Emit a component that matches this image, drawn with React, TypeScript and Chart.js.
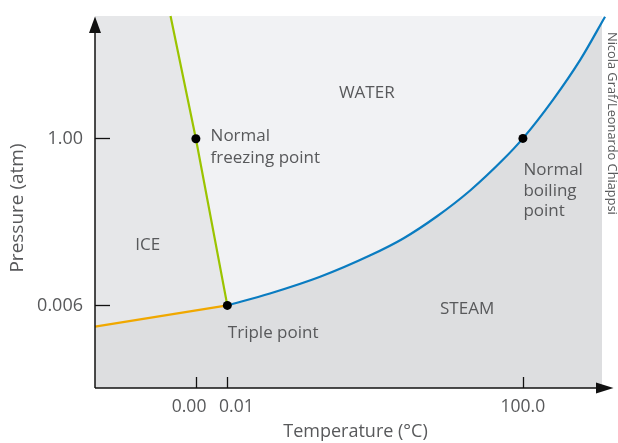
import React, { useEffect, useRef } from 'react';
import { Chart, registerables } from 'chart.js';

Chart.register(...registerables);

// Schematic axis units (the diagram is not to scale)
const X_MIN = 0;
const X_MAX = 100;
const Y_MIN = 0;
const Y_MAX = 100;

// Tick positions (schematic units) and their labels
const xTickPos = [19.9, 26.1, 84.4];
const xTickLabels = ['0.00   ', '    0.01', '100.0'];
const yTickPos = [22.2, 67.1];
const yTickLabels = ['0.006', '1.00'];

// Melting curve (ice / water) – green
const meltX = [14.9, 19.9, 26.1];
const meltY = [100, 67.0, 22.2];

// Sublimation curve (ice / steam) – orange
const sublX = [0, 26.1];
const sublY = [16.5, 22.2];

// Vaporisation curve (water / steam) – blue
const vapX = [26.1, 34.5, 44.4, 54.2, 60.8, 67.4, 74.0, 80.5, 84.4, 90.4, 95.7, 100.6];
const vapY = [22.2, 25.4, 29.9, 35.6, 40.2, 46.1, 53.1, 61.4, 67.1, 77.6, 88.2, 99.8];

// Marked points: normal freezing, triple, normal boiling
const markX = [19.9, 26.1, 84.4];
const markY = [67.0, 22.2, 67.1];

const FONT = "'Open Sans', 'Noto Sans', sans-serif";
const TEXT = '#58595b';
const ICE_BG = '#e6e7e9';
const WATER_BG = '#f1f2f4';
const STEAM_BG = '#dddee0';
const GREEN = '#9bc400';
const ORANGE = '#f0a800';
const BLUE = '#0a7cc1';

const pts = (xs: number[], ys: number[]) => xs.map((x, i) => ({ x, y: ys[i] }));

const regionLabels = [
  { lines: ['WATER'], x: 53.6, y: 79.2, align: 'center', lh: 21 },
  { lines: ['ICE'], x: 10.4, y: 38.4, align: 'center', lh: 21 },
  { lines: ['STEAM'], x: 73.4, y: 21.2, align: 'center', lh: 21 },
  { lines: ['Triple point'], x: 26.2, y: 14.7, align: 'left', lh: 21 },
  { lines: ['Normal', 'freezing point'], x: 22.8, y: 67.7, align: 'left', lh: 22 },
  { lines: ['Normal', 'boiling', 'point'], x: 84.5, y: 58.6, align: 'left', lh: 20.8 },
];

const bgPlugin = {
  id: 'phaseBg',
  beforeDatasetsDraw(chart: any) {
    const { ctx, chartArea: a } = chart;
    ctx.save();
    ctx.fillStyle = WATER_BG;
    ctx.fillRect(a.left, a.top, a.right - a.left, a.bottom - a.top);
    ctx.restore();
  },
};

const axesPlugin = {
  id: 'arrowAxes',
  afterDatasetsDraw(chart: any) {
    const { ctx, chartArea: a, scales } = chart;
    const xs = scales.x;
    const ys = scales.y;
    ctx.save();
    ctx.strokeStyle = '#111';
    ctx.fillStyle = '#111';
    ctx.lineWidth = 1.5;
    // y axis
    ctx.beginPath();
    ctx.moveTo(a.left, a.bottom);
    ctx.lineTo(a.left, a.top + 16);
    ctx.stroke();
    ctx.beginPath();
    ctx.moveTo(a.left, a.top + 0.5);
    ctx.lineTo(a.left - 6, a.top + 17);
    ctx.lineTo(a.left + 6, a.top + 17);
    ctx.closePath();
    ctx.fill();
    // x axis
    ctx.beginPath();
    ctx.moveTo(a.left, a.bottom);
    ctx.lineTo(a.right - 5, a.bottom);
    ctx.stroke();
    ctx.beginPath();
    ctx.moveTo(a.right + 11.5, a.bottom);
    ctx.lineTo(a.right - 6, a.bottom - 5.5);
    ctx.lineTo(a.right - 6, a.bottom + 5.5);
    ctx.closePath();
    ctx.fill();
    // ticks (inside)
    ctx.lineWidth = 1.3;
    xTickPos.forEach((v) => {
      const px = Math.round(xs.getPixelForValue(v)) + 0.5;
      ctx.beginPath();
      ctx.moveTo(px, a.bottom);
      ctx.lineTo(px, a.bottom - 11);
      ctx.stroke();
    });
    yTickPos.forEach((v) => {
      const py = Math.round(ys.getPixelForValue(v)) + 0.5;
      ctx.beginPath();
      ctx.moveTo(a.left, py);
      ctx.lineTo(a.left + 15, py);
      ctx.stroke();
    });
    ctx.restore();
  },
};

const textPlugin = {
  id: 'phaseText',
  afterDraw(chart: any) {
    const { ctx, scales } = chart;
    const xs = scales.x;
    const ys = scales.y;
    ctx.save();
    ctx.fillStyle = TEXT;
    ctx.textBaseline = 'middle';
    ctx.font = `17px ${FONT}`;
    regionLabels.forEach((l) => {
      ctx.textAlign = l.align as CanvasTextAlign;
      const px = xs.getPixelForValue(l.x);
      const py = ys.getPixelForValue(l.y);
      l.lines.forEach((t, i) => ctx.fillText(t, px, py + i * l.lh));
    });
    // x axis title
    ctx.textAlign = 'center';
    ctx.font = `18px ${FONT}`;
    ctx.fillText('Temperature (°C)', 355.5, 431.5);
    // y axis title
    ctx.save();
    ctx.translate(18, 208);
    ctx.rotate(-Math.PI / 2);
    ctx.font = `19px ${FONT}`;
    ctx.fillText('Pressure (atm)', 0, 0);
    ctx.restore();
    // credit
    ctx.save();
    ctx.translate(612, 32);
    ctx.rotate(Math.PI / 2);
    ctx.textAlign = 'left';
    ctx.font = `12.8px ${FONT}`;
    ctx.fillText('Nicola Graf/Leonardo Chiappsi', 0, 0);
    ctx.restore();
    ctx.restore();
  },
};

export default function App() {
  const ref = useRef<HTMLCanvasElement | null>(null);

  useEffect(() => {
    if (!ref.current) return;
    const steamEdge = [...pts(sublX, sublY), ...pts(vapX, vapY).slice(1)];
    const chart = new Chart(ref.current, {
      type: 'line',
      data: {
        datasets: [
          {
            label: 'ice',
            data: [{ x: X_MIN, y: Y_MAX }, ...pts(meltX, meltY)],
            fill: 'origin',
            backgroundColor: ICE_BG,
            borderWidth: 0,
            pointRadius: 0,
            tension: 0,
            order: 6,
          },
          {
            label: 'steam',
            data: steamEdge,
            fill: 'origin',
            backgroundColor: STEAM_BG,
            borderWidth: 0,
            pointRadius: 0,
            tension: 0,
            order: 5,
          },
          {
            label: 'melting',
            data: pts(meltX, meltY),
            fill: false,
            borderColor: GREEN,
            borderWidth: 2.2,
            pointRadius: 0,
            tension: 0,
            clip: false as any,
            order: 3,
          },
          {
            label: 'sublimation',
            data: pts(sublX, sublY),
            fill: false,
            borderColor: ORANGE,
            borderWidth: 2.2,
            pointRadius: 0,
            tension: 0,
            clip: false as any,
            order: 3,
          },
          {
            label: 'vaporisation',
            data: pts(vapX, vapY),
            fill: false,
            borderColor: BLUE,
            borderWidth: 2.2,
            pointRadius: 0,
            cubicInterpolationMode: 'monotone',
            clip: false as any,
            order: 3,
          },
          {
            label: 'marks',
            data: pts(markX, markY),
            showLine: false,
            pointRadius: 4.5,
            pointBackgroundColor: '#000',
            pointBorderWidth: 0,
            clip: false as any,
            order: 1,
          },
        ],
      },
      options: {
        responsive: false,
        animation: false,
        events: [],
        layout: { padding: { top: 16, right: 16, left: 0, bottom: 0 } },
        plugins: { legend: { display: false }, tooltip: { enabled: false } },
        scales: {
          x: {
            type: 'linear',
            min: X_MIN,
            max: X_MAX,
            grid: { display: false, drawTicks: false },
            border: { display: false },
            afterBuildTicks: (s: any) => {
              s.ticks = xTickPos.map((v) => ({ value: v }));
            },
            afterFit: (s: any) => {
              s.height = 55;
              s.paddingLeft = 0;
              s.paddingRight = 0;
            },
            ticks: {
              autoSkip: false,
              maxRotation: 0,
              padding: 9,
              color: TEXT,
              font: { family: FONT, size: 17.5 },
              callback: (_v: any, i: number) => xTickLabels[i],
            },
          },
          y: {
            type: 'linear',
            min: Y_MIN,
            max: Y_MAX,
            grid: { display: false, drawTicks: false },
            border: { display: false },
            afterBuildTicks: (s: any) => {
              s.ticks = yTickPos.map((v) => ({ value: v }));
            },
            afterFit: (s: any) => {
              s.width = 95;
              s.paddingTop = 0;
              s.paddingBottom = 0;
            },
            ticks: {
              autoSkip: false,
              padding: 12,
              color: TEXT,
              font: { family: FONT, size: 18 },
              callback: (_v: any, i: number) => yTickLabels[i],
            },
          },
        },
      },
      plugins: [bgPlugin, axesPlugin, textPlugin],
    } as any);
    return () => chart.destroy();
  }, []);

  return (
    <div style={{ position: 'absolute', left: 0, top: 0, width: 618, height: 443 }}>
      <canvas ref={ref} width={618} height={443} style={{ display: 'block' }} />
    </div>
  );
}
